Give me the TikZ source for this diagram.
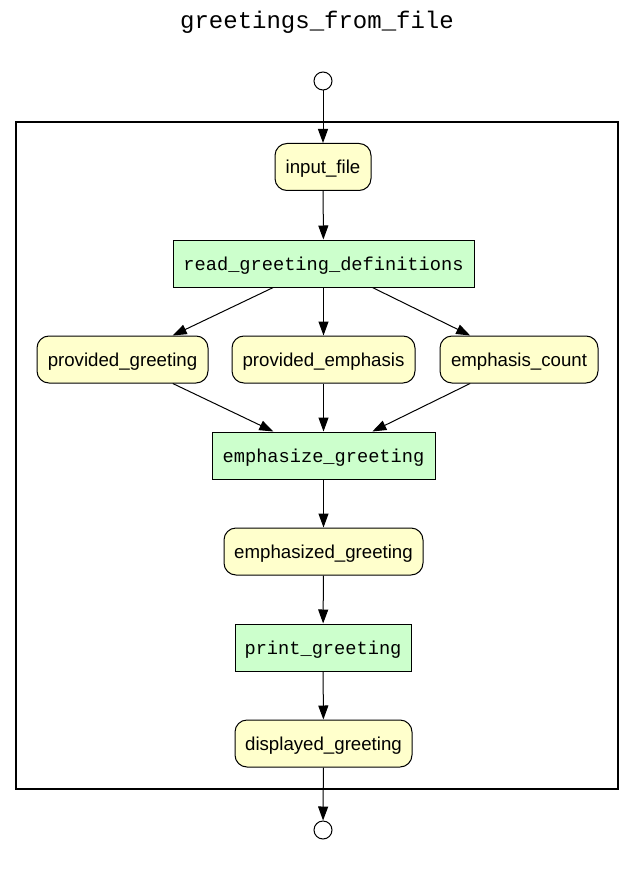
\documentclass[tikz,border=0pt]{standalone}
\usepackage{fontspec}
\setmainfont{Liberation Sans}
\newfontfamily\monofont{Liberation Mono}
\usetikzlibrary{arrows.meta}
\definecolor{dataY}{HTML}{FFFFCC}
\definecolor{stepG}{HTML}{CCFFCC}
\tikzset{
  lbl/.style={font=\fontsize{18.67}{22}\selectfont},
  datanode/.style={draw=black, line width=1pt, fill=dataY, rounded corners=12pt, inner sep=0pt, minimum height=47pt, text height=14pt, text depth=1pt, lbl},
  stepnode/.style={draw=black, line width=1pt, fill=stepG, inner sep=0pt, minimum height=47pt, text height=15pt, text depth=1pt, font=\monofont\fontsize{18.67}{22}\selectfont},
  term/.style={draw=black, line width=1pt, fill=white, circle, inner sep=0pt, minimum size=18pt},
  conn/.style={draw=black, line width=1pt, -{Triangle[length=14pt,width=10pt]}},
}
\begin{document}
\begin{tikzpicture}[x=1pt,y=-1pt]
\useasboundingbox (0,0) rectangle (635,877);
\node[anchor=base, font=\monofont\fontsize{24}{28}\selectfont] (title) at (317,29) {greetings\_from\_file};
\draw[line width=2pt] (16,122) rectangle (618,789);
\node[term] (start) at (323,81) {};
\node[term] (finish) at (323,830) {};
\node[datanode, minimum width=96pt] (input) at (323,167) {input\_file};
\node[stepnode, minimum width=301pt] (read) at (323.5,263.5) {read\_greeting\_definitions};
\node[datanode, minimum width=171pt] (pg) at (122.5,359.5) {provided\_greeting};
\node[datanode, minimum width=183pt] (pe) at (323.5,359.5) {provided\_emphasis};
\node[datanode, minimum width=158pt] (ec) at (519,359.5) {emphasis\_count};
\node[stepnode, minimum width=223pt] (emph) at (323.5,455.5) {emphasize\_greeting};
\node[datanode, minimum width=199pt] (emphd) at (323.5,551.5) {emphasized\_greeting};
\node[stepnode, minimum width=176pt] (print) at (323,647.5) {print\_greeting};
\node[datanode, minimum width=177pt] (disp) at (323.5,743.5) {displayed\_greeting};
\draw[conn] (start) -- (input);
\draw[conn] (input) -- (read);
\draw[conn] (read) -- (pg);
\draw[conn] (read) -- (pe);
\draw[conn] (read) -- (ec);
\draw[conn] (pg) -- (emph);
\draw[conn] (pe) -- (emph);
\draw[conn] (ec) -- (emph);
\draw[conn] (emph) -- (emphd);
\draw[conn] (emphd) -- (print);
\draw[conn] (print) -- (disp);
\draw[conn] (disp) -- (finish);
\end{tikzpicture}
\end{document}
